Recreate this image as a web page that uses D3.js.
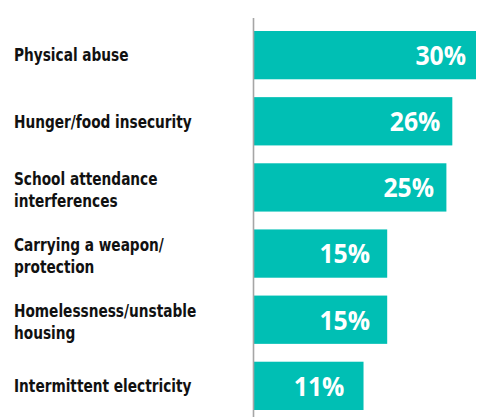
<!DOCTYPE html>
<html>
<head>
<meta charset="utf-8">
<script src="https://cdn.jsdelivr.net/npm/d3@7"></script>
<style>
  html, body { margin: 0; padding: 0; background: #fff; }
  svg { display: block; }
</style>
</head>
<body>
<svg id="chart" width="482" height="417"></svg>
<script>
// Share of respondents reporting each issue
const categories = [
  ["Physical abuse"],
  ["Hunger/food insecurity"],
  ["School attendance", "interferences"],
  ["Carrying a weapon/", "protection"],
  ["Homelessness/unstable", "housing"],
  ["Intermittent electricity"]
];
const values = [30, 26, 25, 15, 15, 11];
const valueLabels = ["30%", "26%", "25%", "15%", "15%", "11%"];

const W = 482, H = 417;
const axisX = 254;
const svg = d3.select("#chart");

const keys = categories.map((c, i) => i);
const y = d3.scaleBand().domain(keys).range([31, 410]).paddingInner(0.27).paddingOuter(0);
// bars keep a minimum stub length past the axis
const x = d3.scaleLinear().domain([-7.5, 30]).range([axisX, 476]);
// right edge of the value label inside each bar
const xLabel = d3.scaleLinear().domain([0, 30]).range([274, 466]);

const labelFont = "'DejaVu Sans Condensed', 'Liberation Sans Narrow', sans-serif";
const valueFont = "'Open Sans', 'Noto Sans', sans-serif";

// bars
svg.append("g").selectAll("rect")
  .data(values)
  .join("rect")
  .attr("x", axisX)
  .attr("y", (d, i) => y(i))
  .attr("width", d => x(d) - axisX)
  .attr("height", y.bandwidth())
  .attr("fill", "#00bfb4");

// value labels inside bars (slightly condensed)
svg.append("g").selectAll("text")
  .data(values)
  .join("text")
  .attr("transform", (d, i) => `translate(${xLabel(d)},${y(i) + y.bandwidth() / 2}) scale(0.9,1)`)
  .attr("dy", "0.36em")
  .attr("text-anchor", "end")
  .attr("fill", "#fff")
  .attr("font-family", valueFont)
  .attr("font-weight", 700)
  .attr("font-size", 27.5)
  .text((d, i) => valueLabels[i]);

// category labels
const lineH = 22;
const cat = svg.append("g")
  .attr("transform", "translate(14,0) scale(0.87,1)")
  .selectAll("text")
  .data(categories)
  .join("text")
  .attr("x", 0)
  .attr("y", (d, i) => y(i) + y.bandwidth() / 2 - (d.length - 1) * lineH / 2 + (d.length > 1 ? 2 : 0))
  .attr("fill", "#111")
  .attr("font-family", labelFont)
  .attr("font-weight", 700)
  .attr("font-size", 17.5);
cat.each(function(lines) {
  const t = d3.select(this);
  const y0 = +t.attr("y");
  lines.forEach((ln, j) => {
    t.append("tspan")
      .attr("x", 0)
      .attr("y", y0 + j * lineH)
      .attr("dy", "0.36em")
      .text(ln);
  });
});

// vertical baseline
svg.append("line")
  .attr("x1", axisX - 0.5).attr("x2", axisX - 0.5)
  .attr("y1", 18).attr("y2", H)
  .attr("stroke", "#a6a6a6")
  .attr("stroke-width", 1.6);
</script>
</body>
</html>
